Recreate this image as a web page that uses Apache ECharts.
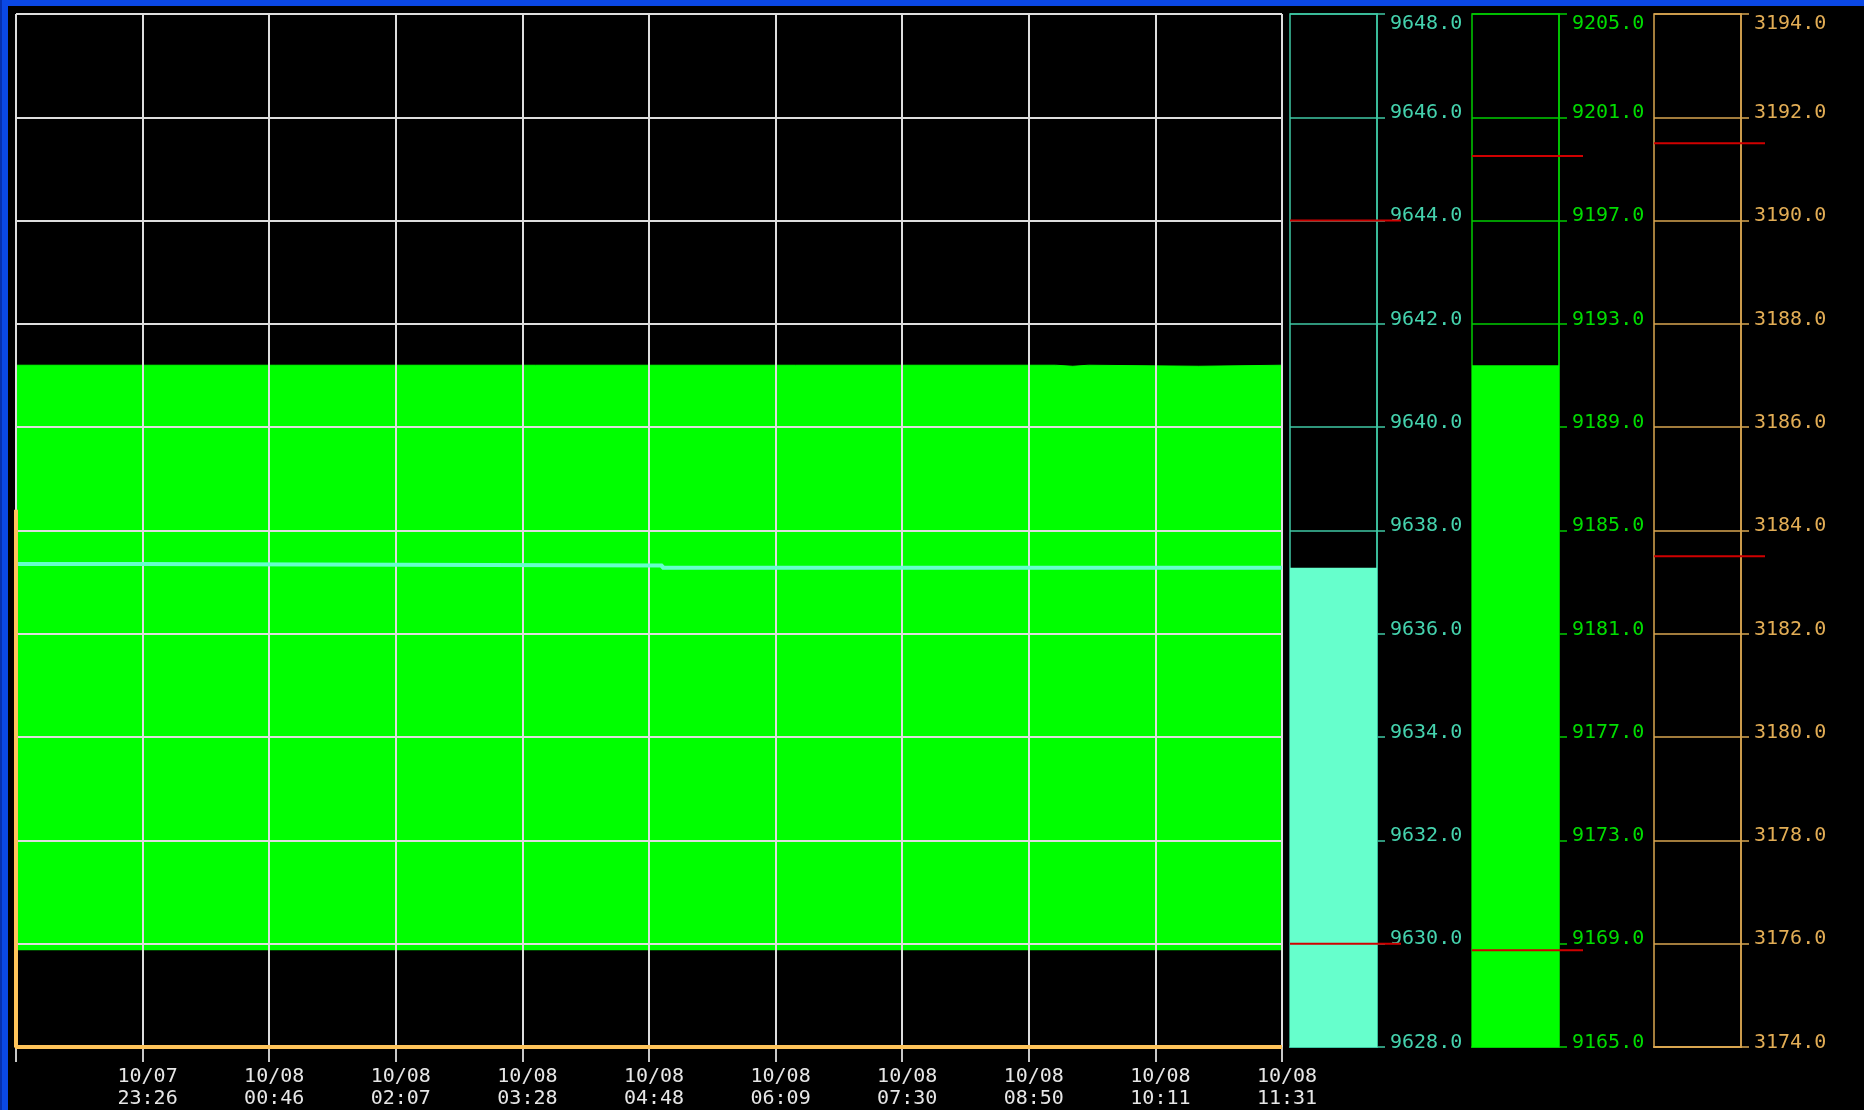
<!DOCTYPE html>
<html>
<head>
<meta charset="utf-8">
<script src="https://cdn.jsdelivr.net/npm/echarts@6/dist/echarts.min.js"></script>
<style>
html,body{margin:0;padding:0;background:#000;}
#chart{width:1864px;height:1110px;}
</style>
</head>
<body>
<div id="chart"></div>
<script>
// ---- data ----
const timeLabels = ['', '10/07\n23:26', '10/08\n00:46', '10/08\n02:07', '10/08\n03:28', '10/08\n04:48',
  '10/08\n06:09', '10/08\n07:30', '10/08\n08:50', '10/08\n10:11', '10/08\n11:31'];
const tickStep = 80.5;          // minutes between time ticks
const timeSpan = 805;           // minutes shown (22:05 .. 11:31)

const cyanTimes  = [0, 79, 411, 805];
const cyanValues = [9637.35, 9637.32, 9637.28, 9637.28];
const greenTimes  = [0, 661, 672, 682, 752, 805];
const greenValues = [9191.40, 9191.36, 9191.40, 9191.36, 9191.40, 9191.40];
const orangeTimes  = [0, 0, 805];
const orangeValues = [3184.4, 3174.0, 3174.0];

const cyanRange   = [9628, 9648, 2];
const greenRange  = [9165, 9205, 4];
const orangeRange = [3174, 3194, 2];

const cyanCurrent = [9637.28];
const greenCurrent = [9191.40];
const orangeCurrent = [3174.0];

const cyanLimits   = [9644.0, 9630.0];
const greenLimits  = [9199.5, 9168.75];
const orangeLimits = [3191.5, 3183.5];

// ---- helpers ----
const zip = (xs, ys) => xs.map((x, i) => [x, ys[i]]);
const FONT = 'DejaVu Sans Mono';

const C = {
  cyanLine: '#66ffcc', cyanAxis: '#3fc7a4', cyanText: '#45d3ae',
  green: '#00ff00', greenAxis: '#00cc00', greenText: '#00dd00',
  orangeLine: '#ffc45a', orangeAxis: '#d9a650', orangeText: '#e2ad55',
  grid: '#dedede', red: '#d00000'
};

const TOP = 14, H = 1033;
const panels = [
  {left: 1290, range: cyanRange, cur: cyanCurrent, lim: cyanLimits, axis: C.cyanAxis, text: C.cyanText, bar: C.cyanLine},
  {left: 1472, range: greenRange, cur: greenCurrent, lim: greenLimits, axis: C.greenAxis, text: C.greenText, bar: C.green},
  {left: 1654, range: orangeRange, cur: orangeCurrent, lim: orangeLimits, axis: C.orangeAxis, text: C.orangeText, bar: C.orangeLine}
];

const grid = [{left: 16, top: TOP, width: 1266, height: H}];
const xAxis = [{
  gridIndex: 0, type: 'value', min: 0, max: timeSpan, interval: tickStep, z: 2,
  axisLine: {show: true, lineStyle: {color: C.grid, width: 2}},
  axisTick: {show: true, length: 15, lineStyle: {color: '#c8c8c8', width: 2}},
  splitLine: {show: true, lineStyle: {color: C.grid, width: 2}},
  axisLabel: {
    show: true, margin: 19, color: '#e6e6e6', fontFamily: FONT, fontSize: 20, lineHeight: 22,
    align: 'center', padding: [0, 0, 0, 10],
    formatter: v => timeLabels[Math.round(v / tickStep)] || ''
  }
}];
const yAxis = [
  {gridIndex: 0, type: 'value', min: cyanRange[0], max: cyanRange[1], interval: cyanRange[2], z: 2,
   axisLine: {show: false}, axisTick: {show: false}, axisLabel: {show: false},
   splitLine: {show: true, lineStyle: {color: C.grid, width: 2}}},
  {gridIndex: 0, type: 'value', min: greenRange[0], max: greenRange[1], interval: greenRange[2],
   axisLine: {show: false}, axisTick: {show: false}, axisLabel: {show: false}, splitLine: {show: false}},
  {gridIndex: 0, type: 'value', min: orangeRange[0], max: orangeRange[1], interval: orangeRange[2],
   axisLine: {show: false}, axisTick: {show: false}, axisLabel: {show: false}, splitLine: {show: false}}
];
const series = [
  {type: 'line', xAxisIndex: 0, yAxisIndex: 1, step: 'end', symbol: 'none', z: 1,
   data: zip(greenTimes, greenValues),
   lineStyle: {color: C.green, width: 1},
   areaStyle: {color: C.green, opacity: 1, origin: greenLimits[1]}},
  {type: 'line', xAxisIndex: 0, yAxisIndex: 0, step: 'end', symbol: 'none', z: 3,
   data: zip(cyanTimes, cyanValues), lineStyle: {color: C.cyanLine, width: 4}},
  {type: 'line', xAxisIndex: 0, yAxisIndex: 2, symbol: 'none', z: 3,
   data: zip(orangeTimes, orangeValues), lineStyle: {color: C.orangeLine, width: 4}}
];

panels.forEach((p, i) => {
  const gi = grid.length;
  grid.push({left: p.left, top: TOP, width: 87, height: H, show: true, borderColor: p.axis, borderWidth: 1.5, backgroundColor: 'transparent'});
  xAxis.push({gridIndex: gi, type: 'category', data: [''], boundaryGap: true,
    axisLine: {show: true, lineStyle: {color: p.axis, width: 2}}, axisTick: {show: false}, axisLabel: {show: false}, splitLine: {show: false}});
  const yi = yAxis.length;
  yAxis.push({gridIndex: gi, type: 'value', position: 'right', min: p.range[0], max: p.range[1], interval: p.range[2],
    axisLine: {show: true, lineStyle: {color: p.axis, width: 1.5}},
    axisTick: {show: true, inside: false, length: 8, lineStyle: {color: p.axis, width: 1.5}},
    splitLine: {show: true, lineStyle: {color: p.axis, width: 1.5}},
    axisLabel: {show: true, margin: 13, color: p.text, fontFamily: FONT, fontSize: 20, lineHeight: 9,
      padding: [5, 0, 0, 0],
      verticalAlign: 'bottom', verticalAlignMaxLabel: 'top', formatter: v => v.toFixed(1)}});
  series.push({type: 'bar', xAxisIndex: xAxis.length - 1, yAxisIndex: yi, barWidth: '100%', z: 2,
    data: p.cur, itemStyle: {color: p.bar}});
});

panels.forEach((p, i) => {
  const gi = grid.length;
  grid.push({left: p.left, top: TOP, width: 111, height: H, show: false});
  xAxis.push({gridIndex: gi, type: 'value', min: 0, max: 1, show: false});
  yAxis.push({gridIndex: gi, type: 'value', min: p.range[0], max: p.range[1], show: false});
  p.lim.forEach(v => {
    series.push({type: 'line', xAxisIndex: xAxis.length - 1, yAxisIndex: yAxis.length - 1, symbol: 'none', z: 5,
      data: [[0, v], [1, v]], lineStyle: {color: C.red, width: 2}});
  });
});

const chart = echarts.init(document.getElementById('chart'), null, {renderer: 'canvas'});
chart.setOption({
  backgroundColor: '#000000',
  animation: false,
  grid, xAxis, yAxis, series,
  graphic: [
    {type: 'rect', shape: {x: 0, y: 0, width: 1864, height: 6}, style: {fill: '#0a48e6'}, z: 10},
    {type: 'rect', shape: {x: 0, y: 0, width: 8, height: 1110}, style: {fill: '#0a48e6'}, z: 10},
    {type: 'rect', shape: {x: 0, y: 0, width: 2, height: 1110}, style: {fill: '#0630b0'}, z: 11}
  ]
});
</script>
</body>
</html>
